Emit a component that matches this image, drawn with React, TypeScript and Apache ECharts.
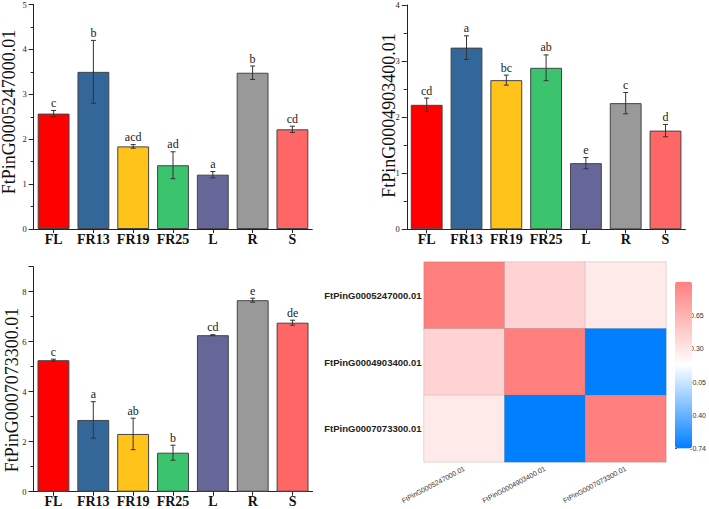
import React, { useEffect, useRef } from "react";
import * as echarts from "echarts";

const categories = ["FL", "FR13", "FR19", "FR25", "L", "R", "S"];
const barColors = ["#FF0000", "#336699", "#FFC31A", "#3CC36E", "#666699", "#999999", "#FF6666"];

const geneNames = ["FtPinG0005247000.01", "FtPinG0004903400.01", "FtPinG0007073300.01"];

const gene1Mean = [2.57, 3.5, 1.84, 1.42, 1.21, 3.48, 2.22];
const gene1Err = [0.07, 0.7, 0.04, 0.3, 0.07, 0.15, 0.07];
const gene1Letters = ["c", "b", "acd", "ad", "a", "b", "cd"];

const gene2Mean = [2.22, 3.24, 2.66, 2.88, 1.18, 2.25, 1.76];
const gene2Err = [0.12, 0.21, 0.09, 0.23, 0.1, 0.19, 0.11];
const gene2Letters = ["cd", "a", "bc", "ab", "e", "c", "d"];

const gene3Mean = [5.26, 2.87, 2.31, 1.56, 6.26, 7.66, 6.76];
const gene3Err = [0.04, 0.73, 0.63, 0.3, 0.02, 0.08, 0.1];
const gene3Letters = ["c", "a", "ab", "b", "cd", "e", "de"];

const yMax = [5, 4, 9];
const yInterval = [1, 1, 2];

const corrRow1 = [1, 0.43, 0.27];
const corrRow2 = [0.43, 1, -0.74];
const corrRow3 = [0.27, -0.74, 1];
const corrMin = -0.74;
const corrMax = 1;
const colorbarTicks = [-0.74, -0.4, -0.05, 0.3, 0.65];

const SERIF = "Liberation Serif";
const SANS = "Liberation Sans";

export default function App() {
  const ref = useRef<HTMLDivElement>(null);

  useEffect(() => {
    if (!ref.current) return;
    const chart = echarts.init(ref.current, undefined, { renderer: "svg" });

    const means = [gene1Mean, gene2Mean, gene3Mean];
    const errs = [gene1Err, gene2Err, gene3Err];
    const letters = [gene1Letters, gene2Letters, gene3Letters];

    const barGrids = [
      { left: 33.7, top: 4.5, width: 278.6, height: 224.5 },
      { left: 406.8, top: 5, width: 278.6, height: 224.3 },
      { left: 33.5, top: 266.7, width: 279, height: 225 },
    ];

    const grids: any[] = [...barGrids, { left: 424, top: 262, width: 242, height: 200 }, { left: 675, top: 281.7, width: 17, height: 166.7 }];

    const xAxes: any[] = [];
    const yAxes: any[] = [];
    const series: any[] = [];

    for (let g = 0; g < 3; g++) {
      xAxes.push({
        type: "category",
        gridIndex: g,
        data: categories,
        axisLine: { show: true, lineStyle: { color: "#222", width: 1 } },
        axisTick: { show: true, alignWithLabel: true, interval: 0, length: 4, lineStyle: { color: "#222" } },
        axisLabel: { interval: 0, margin: 3, fontFamily: SERIF, fontWeight: "bold", fontSize: 14, color: "#111" },
        splitLine: { show: false },
      });
      yAxes.push({
        type: "value",
        gridIndex: g,
        min: 0,
        max: yMax[g],
        interval: yInterval[g],
        axisLine: { show: true, lineStyle: { color: "#222", width: 1 } },
        axisTick: { show: true, length: 5, lineStyle: { color: "#222" } },
        minorTick: { show: true, splitNumber: 2, length: 3, lineStyle: { color: "#222" } },
        axisLabel: { margin: 7, fontFamily: SERIF, fontSize: 8.5, color: "#222", showMaxLabel: g === 2 ? false : true },
        splitLine: { show: false },
      });
      series.push({
        type: "bar",
        xAxisIndex: g,
        yAxisIndex: g,
        barWidth: "80%",
        data: means[g].map((v, i) => ({
          value: v,
          itemStyle: { color: barColors[i], borderColor: "#444", borderWidth: 1 },
        })),
      });
      const lt = letters[g];
      series.push({
        type: "custom",
        xAxisIndex: g,
        yAxisIndex: g,
        z: 5,
        data: means[g].map((v, i) => [i, v, errs[g][i]]),
        renderItem: (params: any, api: any) => {
          const x = api.value(0);
          const m = api.value(1);
          const e = api.value(2);
          const top = api.coord([x, m + e]);
          const bot = api.coord([x, m - e]);
          const hw = 2.5;
          const st = { stroke: "#333", lineWidth: 1 };
          return {
            type: "group",
            children: [
              { type: "line", shape: { x1: top[0], y1: top[1], x2: bot[0], y2: bot[1] }, style: st },
              { type: "line", shape: { x1: top[0] - hw, y1: top[1], x2: top[0] + hw, y2: top[1] }, style: st },
              { type: "line", shape: { x1: bot[0] - hw, y1: bot[1], x2: bot[0] + hw, y2: bot[1] }, style: st },
              {
                type: "text",
                x: top[0],
                y: top[1] - 1.5,
                style: {
                  text: lt[params.dataIndex],
                  align: "center",
                  verticalAlign: "bottom",
                  fontFamily: SERIF,
                  fontSize: 12,
                  fill: "#222",
                },
              },
            ],
          };
        },
      });
    }

    // heatmap axes
    xAxes.push({
      type: "category",
      gridIndex: 3,
      data: geneNames,
      axisLine: { show: false },
      axisTick: { show: false },
      axisLabel: { rotate: 28, margin: 6, fontFamily: SANS, fontSize: 7, color: "#333", interval: 0 },
      splitLine: { show: false },
    });
    yAxes.push({
      type: "category",
      gridIndex: 3,
      data: geneNames,
      inverse: true,
      axisLine: { show: false },
      axisTick: { show: false },
      axisLabel: { margin: 2.5, fontFamily: SANS, fontWeight: "bold", fontSize: 9.5, color: "#222", interval: 0 },
      splitLine: { show: false },
    });

    // colorbar axis
    xAxes.push({ type: "value", gridIndex: 4, show: false });
    yAxes.push({
      type: "value",
      gridIndex: 4,
      position: "right",
      min: corrMin,
      max: corrMax,
      axisLine: { show: false },
      splitLine: { show: false },
      axisTick: { show: true, customValues: colorbarTicks, length: 2, inside: false, lineStyle: { color: "#555" } },
      axisLabel: {
        customValues: colorbarTicks,
        margin: 2,
        fontFamily: SANS,
        fontSize: 7,
        color: "#333",
        formatter: (v: number) => v.toFixed(2),
      },
    });

    const corr = [corrRow1, corrRow2, corrRow3];
    const heatData: any[] = [];
    for (let i = 0; i < 3; i++) for (let j = 0; j < 3; j++) heatData.push([j, i, corr[i][j]]);

    series.push({
      type: "heatmap",
      xAxisIndex: 3,
      yAxisIndex: 3,
      data: heatData,
      itemStyle: { borderColor: "rgba(110,110,110,0.35)", borderWidth: 0.6 },
      label: { show: false },
    });
    const heatIndex = series.length - 1;

    const nameStyle = { fontFamily: SERIF, fontSize: 18, fill: "#111", align: "center", verticalAlign: "middle" };

    chart.setOption({
      animation: false,
      backgroundColor: "#fff",
      grid: grids,
      xAxis: xAxes,
      yAxis: yAxes,
      visualMap: {
        type: "continuous",
        seriesIndex: heatIndex,
        min: corrMin,
        max: corrMax,
        left: 675,
        top: 281.7,
        itemWidth: 17,
        itemHeight: 166.7,
        padding: 0,
        calculable: false,
        orient: "vertical",
        showLabel: false,
        inRange: { color: ["#007FFF", "#FFFFFF", "#FF7F7F"] },
      },
      graphic: [
        { type: "text", x: 9, y: 112, rotation: Math.PI / 2, style: { ...nameStyle, text: geneNames[0] } },
        { type: "text", x: 388.7, y: 115.5, rotation: Math.PI / 2, style: { ...nameStyle, text: geneNames[1] } },
        { type: "text", x: 12, y: 390, rotation: Math.PI / 2, style: { ...nameStyle, text: geneNames[2] } },
      ],
      series,
    });

    return () => chart.dispose();
  }, []);

  return <div ref={ref} style={{ position: "fixed", left: 0, top: 0, width: 709, height: 509 }} />;
}
